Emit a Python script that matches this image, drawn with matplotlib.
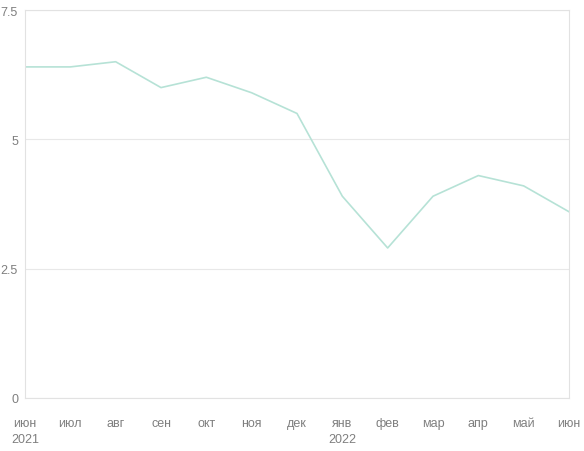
import matplotlib
matplotlib.use("Agg")
import matplotlib.pyplot as plt

months = ["июн", "июл", "авг", "сен", "окт", "ноя", "дек",
          "янв", "фев", "мар", "апр", "май", "июн"]
years = {0: "2021", 7: "2022"}
values = [6.4, 6.4, 6.5, 6.0, 6.2, 5.9, 5.5, 3.9, 2.9, 3.9, 4.3, 4.1, 3.6]

plt.rcParams["font.family"] = ["Liberation Sans", "DejaVu Sans"]

W, H = 584, 452
fig = plt.figure(figsize=(W / 100, H / 100), dpi=100)
left, right, top, bottom = 25, 569, 11, 399
ax = fig.add_axes([left / W, 1 - bottom / H, (right - left) / W, (bottom - top) / H])

x = list(range(len(months)))
ax.plot(x, values, color="#b6e2d6", linewidth=1.2)

ax.set_xlim(0, len(months) - 1)
ax.set_ylim(0, 7.5)
ax.set_yticks([0, 2.5, 5, 7.5])
ax.set_yticklabels(["0", "2.5", "5", "7.5"])
ax.grid(axis="y", color="#e8e8e8", linewidth=0.8)
ax.set_axisbelow(True)
for s in ax.spines.values():
    s.set_color("#e2e2e2")
    s.set_linewidth(0.8)
ax.tick_params(axis="y", length=0, pad=5, labelsize=9, labelcolor="#7f7f7f")

# month name on first line, year (only at the year start) on the second
ax.set_xticks(x)
ax.set_xticklabels([m + "\n" + years.get(i, "") for i, m in enumerate(months)],
                   linespacing=1.45, va="top")
ax.tick_params(axis="x", length=0, pad=14, labelsize=9, labelcolor="#7f7f7f")

fig.savefig("out.png", dpi=100)
